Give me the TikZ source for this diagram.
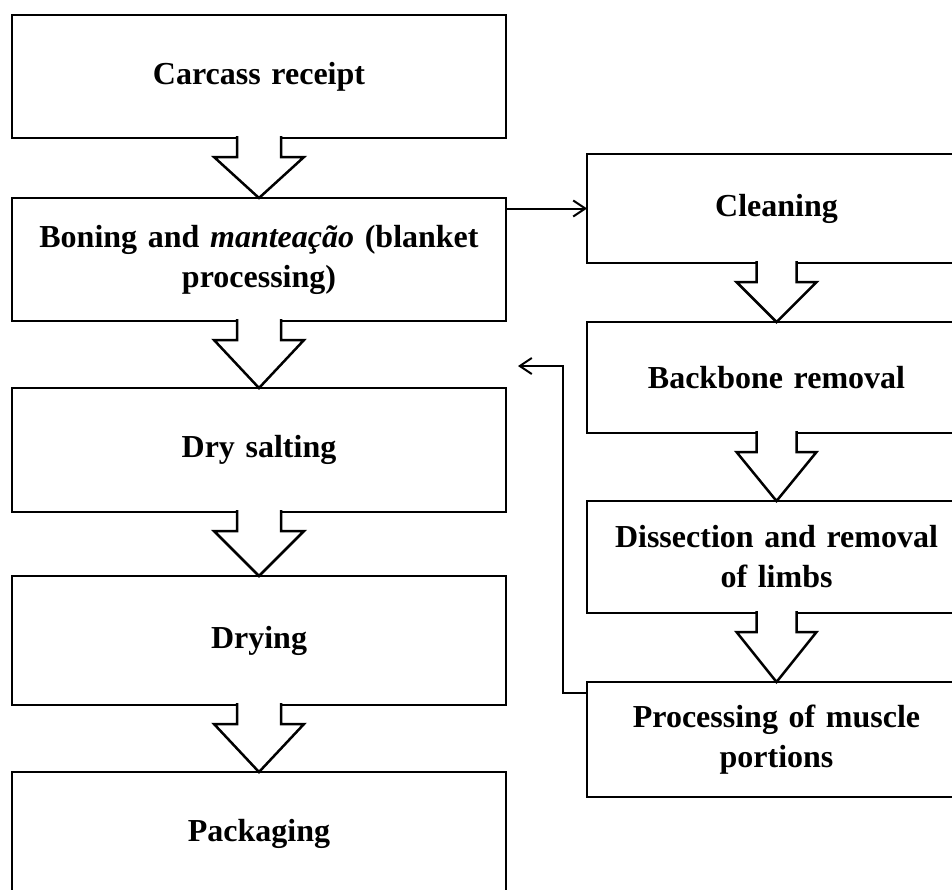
\documentclass[tikz,border=0pt]{standalone}
\usepackage{fontspec}
\setmainfont[WordSpace=0.8]{Liberation Serif}
\usetikzlibrary{arrows.meta, calc}

% hollow block arrow from the bottom of one stage to the top of the next
\newcommand{\blockarrow}[4]{%
  \path[draw, fill=white, line width=2.5pt, line join=miter]
    let \p1=(#1.south), \p2=(#2.north) in
    (\x1-#3, \y1+2pt) -- (\x1-#3, \y1-19pt) -- (\x1-#4, \y1-19pt) -- (\x2, \y2)
    -- (\x1+#4, \y1-19pt) -- (\x1+#3, \y1-19pt) -- (\x1+#3, \y1+2pt);
}

\begin{document}
\begin{tikzpicture}[x=1pt, y=-1pt,
  stage/.style={draw, line width=2.5pt, inner sep=0pt, outer sep=0pt,
    minimum width=494pt, minimum height=123pt, text width=470pt, align=center,
    font=\fontsize{32}{40}\selectfont\bfseries},
  side/.style={stage, minimum width=379pt, minimum height=111pt, text width=360pt},
  link/.style={line width=2pt, -{Straight Barb[length=12pt, width=16pt, line width=2pt]}},
]
  \useasboundingbox (0,0) rectangle (952,889);
  \clip (0,0) rectangle (952,889);

  % main line
  \node[stage] (receipt) at (259,76.5) {Carcass receipt};
  \node[stage] (boning) at (259,259.5) {Boning and \textit{manteação} (blanket\\processing)};
  \node[stage, minimum height=124pt] (salting) at (259,450) {Dry salting};
  \node[stage, minimum height=129pt] (drying) at (259,640.5) {Drying};
  \node[stage, minimum height=124pt] (packaging) at (259,834) {Packaging};

  % side line
  \node[side, minimum height=109pt] (cleaning) at (776.5,208.5) {Cleaning};
  \node[side] (backbone) at (776.5,377.5) {Backbone removal};
  \node[side, minimum height=112pt] (limbs) at (776.5,557) {Dissection and removal\\of limbs};
  \node[side, minimum height=115pt] (muscle) at (776.5,739.5) {Processing of muscle\\portions};

  \blockarrow{receipt}{boning}{22pt}{45pt}
  \blockarrow{boning}{salting}{22pt}{45pt}
  \blockarrow{salting}{drying}{22pt}{45pt}
  \blockarrow{drying}{packaging}{22pt}{45pt}

  \blockarrow{cleaning}{backbone}{20pt}{40pt}
  \blockarrow{backbone}{limbs}{20pt}{40pt}
  \blockarrow{limbs}{muscle}{20pt}{40pt}

  \draw[link] (boning.east |- cleaning.west) -- (cleaning.west);
  \coordinate (back) at (518,366);
  \draw[link] ([yshift=-11pt]muscle.north west) -| ($(back)+(45,0)$) -- (back);
\end{tikzpicture}
\end{document}
